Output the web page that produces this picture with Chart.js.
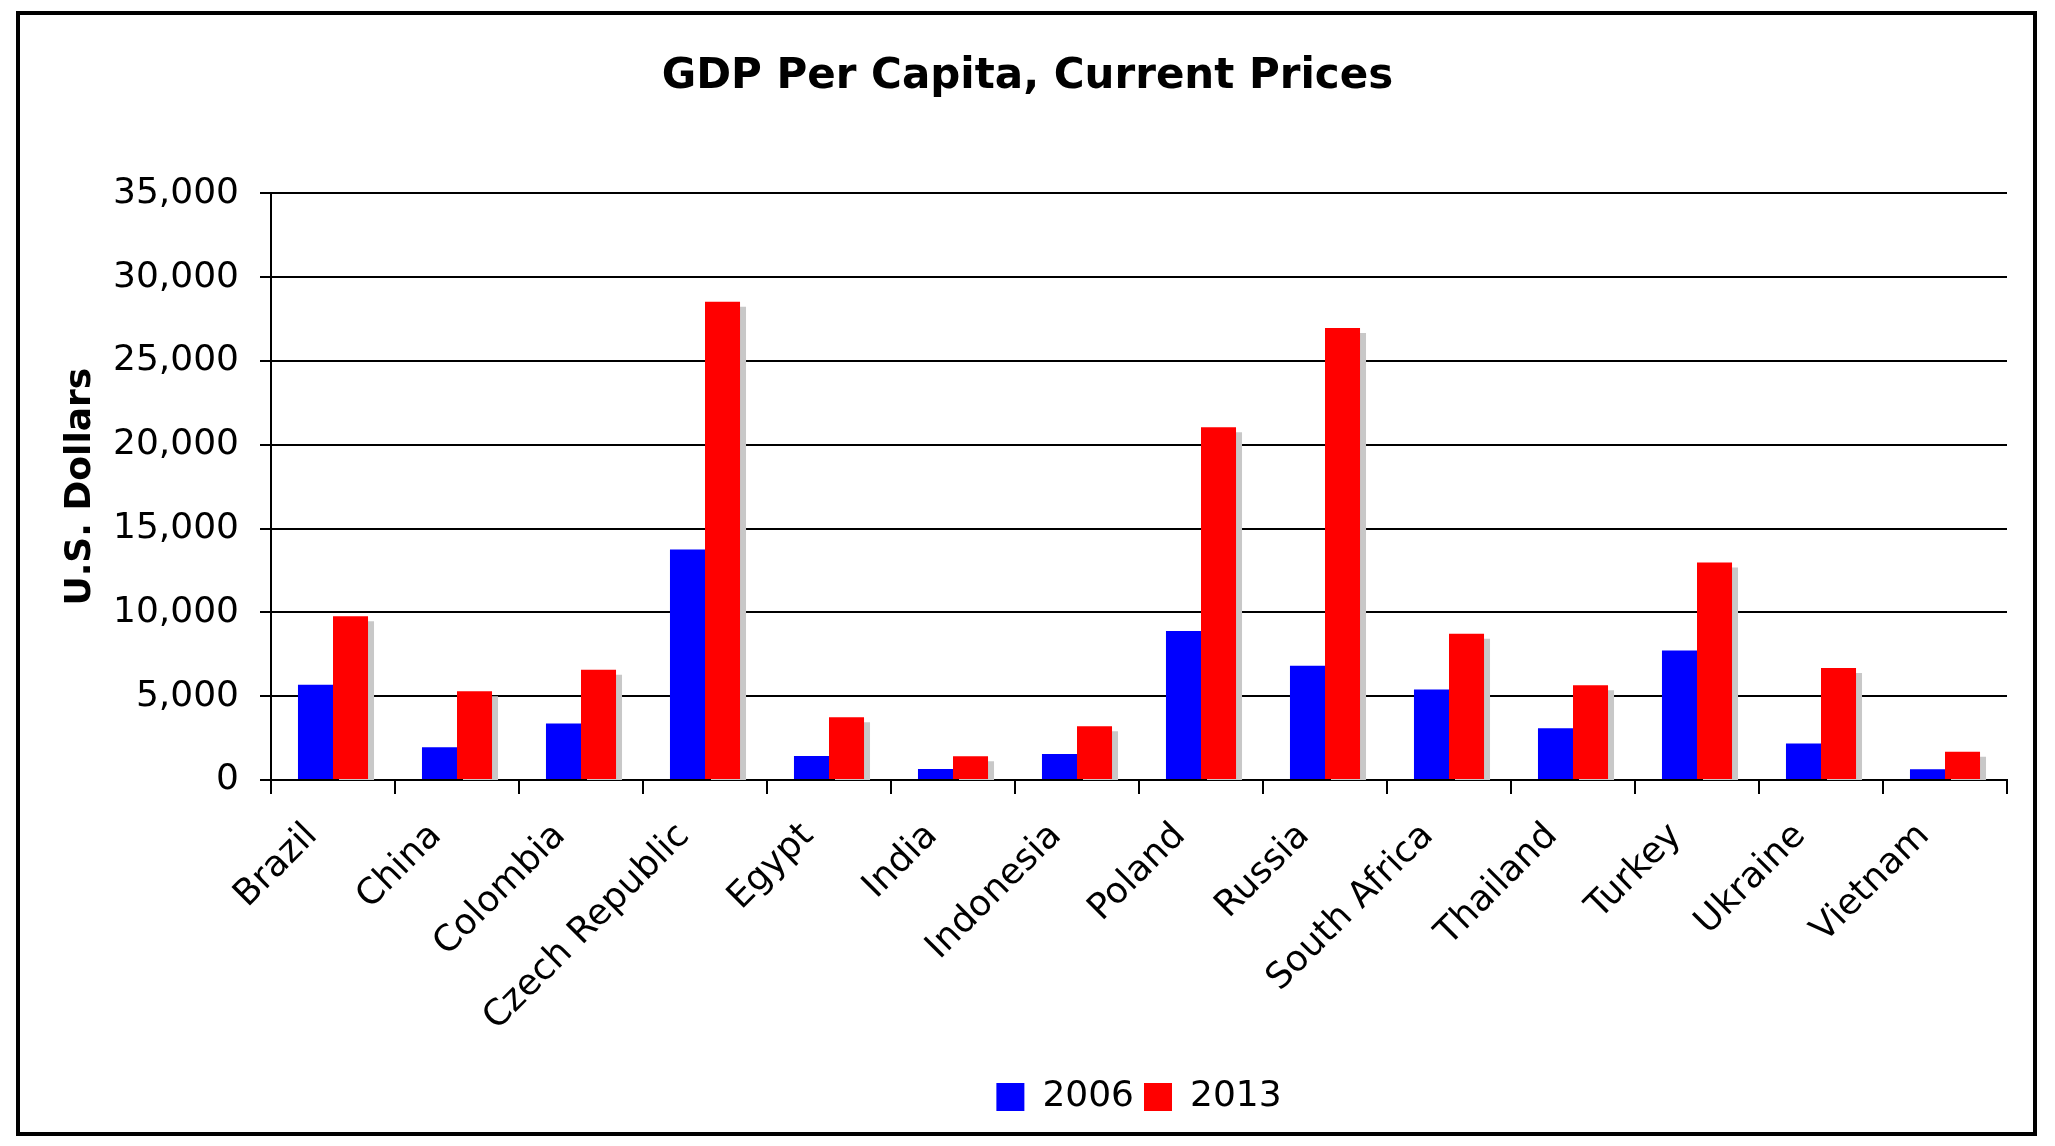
<!DOCTYPE html>
<html>
<head>
<meta charset="utf-8">
<title>GDP Per Capita, Current Prices</title>
<script src="https://cdn.jsdelivr.net/npm/chart.js@4.4.1/dist/chart.umd.min.js"></script>
<style>
  html, body { margin: 0; padding: 0; background: #fff; }
  #wrap { position: relative; width: 2055px; height: 1146px; }
  #frame {
    position: absolute; left: 16px; top: 11px;
    width: 2013px; height: 1117px;
    border: 4px solid #000; pointer-events: none;
  }
</style>
</head>
<body>
<div id="wrap">
  <canvas id="gdpChart" width="2055" height="1146"></canvas>
  <div id="frame"></div>
</div>
<script>
const countries = ["Brazil", "China", "Colombia", "Czech Republic", "Egypt", "India", "Indonesia",
                   "Poland", "Russia", "South Africa", "Thailand", "Turkey", "Ukraine", "Vietnam"];
const gdp2006 = [5680, 1950, 3370, 13760, 1430, 650, 1550, 8890, 6810, 5400, 3090, 7730, 2180, 640];
const gdp2013 = [9770, 5290, 6580, 28530, 3740, 1410, 3210, 21050, 26970, 8720, 5650, 12980, 6680, 1680];
const yMin = 0;
const yMax = 35000;
const yStep = 5000;

const FONT = "'DejaVu Sans', Verdana, sans-serif";

// grey drop shadow behind the red bars (blue one is hidden behind red anyway)
const barShadow = {
  id: "barShadow",
  beforeDatasetDraw(chart, args) {
    const c = chart.ctx;
    c.save();
    if (args.index === 1) {
      c.shadowColor = "#c8c8c8";
      c.shadowOffsetX = 6;
      c.shadowOffsetY = 5;
      c.shadowBlur = 0;
    }
  },
  afterDatasetDraw(chart) {
    chart.ctx.restore();
  }
};

new Chart(document.getElementById("gdpChart"), {
  type: "bar",
  data: {
    labels: countries,
    datasets: [
      { label: "2006", data: gdp2006, backgroundColor: "#0000ff", borderWidth: 0 },
      { label: "2013", data: gdp2013, backgroundColor: "#ff0000", borderWidth: 0 }
    ]
  },
  options: {
    responsive: false,
    animation: false,
    layout: { padding: { left: 48, right: 48, top: 30, bottom: 21 } },
    datasets: {
      bar: { categoryPercentage: 0.565, barPercentage: 1.0 }
    },
    plugins: {
      title: {
        display: true,
        text: "GDP Per Capita, Current Prices",
        color: "#000",
        font: { family: FONT, size: 42, weight: "bold" },
        padding: { top: 22, bottom: 91 }
      },
      legend: {
        position: "bottom",
        fullSize: false,
        labels: {
          color: "#000",
          font: { family: FONT, size: 36 },
          boxWidth: 28,
          boxHeight: 28,
          padding: 10
        }
      },
      tooltip: { enabled: false }
    },
    scales: {
      x: {
        grid: { drawOnChartArea: false, drawTicks: true, tickLength: 14, color: "#000", lineWidth: 2, offset: true },
        border: { color: "#000", width: 2 },
        ticks: {
          color: "#000",
          font: { family: FONT, size: 36 },
          minRotation: 45,
          maxRotation: 45,
          autoSkip: false,
          padding: 21,
          labelOffset: -21
        },
        afterFit: (scale) => { scale.height = 289; }
      },
      y: {
        min: yMin,
        max: yMax,
        grid: { color: "#000", lineWidth: 2, tickLength: 11 },
        border: { color: "#000", width: 2 },
        ticks: {
          stepSize: yStep,
          color: "#000",
          font: { family: FONT, size: 36 },
          padding: 21,
          callback: (v) => v.toLocaleString("en-US")
        },
        title: {
          display: true,
          text: "U.S. Dollars",
          color: "#000",
          font: { family: FONT, size: 36, weight: "bold" },
          padding: { top: 11, bottom: 0 }
        },
        afterFit: (scale) => { scale.width = 223; }
      }
    }
  },
  plugins: [barShadow]
});
</script>
</body>
</html>
